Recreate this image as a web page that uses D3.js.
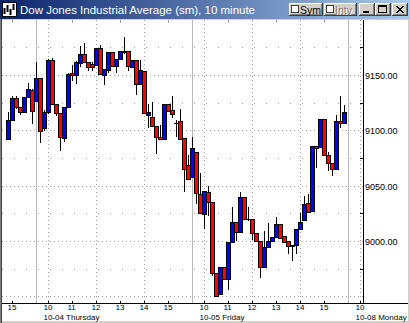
<!DOCTYPE html>
<html>
<head>
<meta charset="utf-8">
<script src="https://cdn.jsdelivr.net/npm/d3@7"></script>
<style>
  html, body { margin: 0; padding: 0; background: #d4d0c8; overflow: hidden; }
  text { font-family: "Liberation Sans", Arial, sans-serif; }
</style>
</head>
<body>
<div id="chart"></div>
<script>
// 10 minute bars, label = bar start time
var barTimes = [
  '10-03 14:50','10-03 15:00','10-03 15:10','10-03 15:20','10-03 15:30','10-03 15:40','10-03 15:50',
  '10-04 09:30','10-04 09:40','10-04 09:50','10-04 10:00','10-04 10:10','10-04 10:20','10-04 10:30','10-04 10:40','10-04 10:50',
  '10-04 11:00','10-04 11:10','10-04 11:20','10-04 11:30','10-04 11:40','10-04 11:50',
  '10-04 12:00','10-04 12:10','10-04 12:20','10-04 12:30','10-04 12:40','10-04 12:50',
  '10-04 13:00','10-04 13:10','10-04 13:20','10-04 13:30','10-04 13:40','10-04 13:50',
  '10-04 14:00','10-04 14:10','10-04 14:20','10-04 14:30','10-04 14:40','10-04 14:50',
  '10-04 15:00','10-04 15:10','10-04 15:20','10-04 15:30','10-04 15:40','10-04 15:50',
  '10-05 09:30','10-05 09:40','10-05 09:50','10-05 10:00','10-05 10:10','10-05 10:20','10-05 10:30','10-05 10:40','10-05 10:50',
  '10-05 11:00','10-05 11:10','10-05 11:20','10-05 11:30','10-05 11:40','10-05 11:50',
  '10-05 12:00','10-05 12:10','10-05 12:20','10-05 12:30','10-05 12:40','10-05 12:50',
  '10-05 13:00','10-05 13:10','10-05 13:20','10-05 13:30','10-05 13:40','10-05 13:50',
  '10-05 14:00','10-05 14:10','10-05 14:20','10-05 14:30','10-05 14:40','10-05 14:50',
  '10-05 15:00','10-05 15:10','10-05 15:20','10-05 15:30','10-05 15:40','10-05 15:50'
];

var openVals = [
  9091.9, 9109.3, 9128.9, 9120.8, 9116.3, 9129.8, 9136.4,
  9126.7, 9147.0, 9101.8, 9116.8, 9163.5, 9123.8, 9115.4, 9092.8, 9121.3,
  9151.5, 9149.9, 9160.5, 9168.6, 9161.4, 9159.6,
  9159.0, 9174.1, 9149.9, 9154.5, 9171.0, 9158.1,
  9164.1, 9171.9, 9171.6, 9157.4, 9163.5, 9141.5,
  9153.6, 9113.5, 9111.7, 9104.2, 9093.7, 9091.9,
  9123.5, 9118.1, 9106.9, 9108.4, 9092.8, 9068.7,
  9058.1, 9080.7, 9042.2, 9024.1, 9044.0, 9035.5, 8970.8, 8952.1, 8976.2,
  8965.4, 8999.4, 9016.9, 9007.9, 9040.0, 9019.8,
  9019.6, 9007.5, 9000.3, 8976.8, 8994.9, 9000.3,
  9003.9, 9015.1, 9004.8, 9000.3, 8996.1, 8996.1,
  9010.6, 9019.0, 9034.1, 9027.4, 9085.8, 9084.6,
  9110.2, 9077.7, 9070.2, 9064.8, 9108.4, 9106.3
];
var highVals = [
  9116.3, 9131.0, 9131.0, 9120.8, 9129.8, 9143.0, 9137.0,
  9162.0, 9147.0, 9118.0, 9164.4, 9165.6, 9123.8, 9115.4, 9121.3, 9151.8,
  9159.0, 9163.0, 9176.1, 9178.6, 9161.4, 9162.0,
  9174.1, 9177.0, 9155.1, 9171.0, 9171.0, 9164.1,
  9171.9, 9184.5, 9172.0, 9163.5, 9163.5, 9163.5,
  9153.6, 9123.5, 9125.3, 9104.2, 9104.8, 9123.5,
  9123.5, 9131.2, 9109.3, 9119.2, 9092.8, 9077.7,
  9093.7, 9080.7, 9061.2, 9045.2, 9050.0, 9035.5, 8970.8, 8976.2, 8976.2,
  8999.4, 9031.0, 9016.9, 9044.5, 9040.0, 9030.7,
  9019.6, 9007.5, 9000.3, 9009.0, 9016.5, 9003.9,
  9021.9, 9015.1, 9004.8, 9000.3, 8996.1, 9010.6,
  9025.0, 9040.6, 9042.2, 9085.8, 9085.8, 9110.2,
  9110.6, 9080.0, 9070.2, 9113.8, 9131.0, 9122.8
];
var lowVals = [
  9091.9, 9109.3, 9120.5, 9115.0, 9116.3, 9129.8, 9106.6,
  9126.7, 9089.7, 9100.0, 9116.0, 9123.8, 9114.0, 9082.2, 9090.3, 9121.3,
  9145.4, 9142.5, 9158.0, 9161.4, 9154.5, 9154.5,
  9159.0, 9150.6, 9141.5, 9152.7, 9158.1, 9152.7,
  9164.1, 9170.0, 9154.5, 9157.4, 9132.8, 9141.5,
  9115.4, 9103.2, 9104.2, 9079.8, 9091.9, 9091.9,
  9117.4, 9112.3, 9094.8, 9091.9, 9045.4, 9055.7,
  9058.1, 9034.1, 9025.0, 9012.0, 9023.5, 8969.3, 8950.6, 8952.1, 8965.4,
  8956.4, 8999.4, 9000.9, 9007.9, 9019.6, 9019.0,
  9001.8, 9000.3, 8967.8, 8976.8, 8994.9, 9000.3,
  9003.9, 9002.4, 8999.4, 8988.9, 8982.8, 8988.9,
  9010.6, 9019.0, 9026.5, 9027.4, 9067.1, 9084.6,
  9077.7, 9064.1, 9059.6, 9064.8, 9103.2, 9106.3
];
var closeVals = [
  9109.3, 9128.9, 9120.8, 9116.3, 9129.8, 9137.0, 9117.4,
  9147.0, 9099.6, 9116.8, 9163.5, 9123.8, 9115.4, 9094.2, 9121.3, 9150.6,
  9149.7, 9161.4, 9168.6, 9161.4, 9156.9, 9157.4,
  9174.1, 9150.6, 9155.1, 9171.0, 9158.1, 9164.1,
  9171.9, 9171.2, 9158.1, 9163.5, 9141.8, 9154.5,
  9115.4, 9116.3, 9104.2, 9093.7, 9091.9, 9123.5,
  9117.4, 9114.4, 9106.7, 9091.9, 9064.8, 9055.7,
  9083.7, 9043.1, 9025.0, 9045.2, 9035.5, 8971.4, 8950.6, 8976.2, 8965.4,
  8999.4, 9016.9, 9007.9, 9040.0, 9019.6, 9019.6,
  9007.0, 9000.3, 8976.2, 8994.9, 9000.3, 9003.9,
  9015.1, 9002.4, 8999.4, 8995.5, 8995.7, 9010.6,
  9017.4, 9033.2, 9026.5, 9085.8, 9084.3, 9110.2,
  9077.7, 9070.2, 9064.8, 9108.4, 9106.3, 9116.3
];

// sessions shown on the time axis
var sessionDates = ['10-03', '10-04', '10-05', '10-08'];
var sessionNames = ['10-03 Wednesday', '10-04 Thursday', '10-05 Friday', '10-08 Monday'];
// hour labels: [session, hour]
var hourTicks = [[0,15],[1,10],[1,11],[1,12],[1,13],[1,14],[1,15],
                 [2,10],[2,11],[2,12],[2,13],[2,14],[2,15],[3,10]];
var priceTicks = [9000, 9050, 9100, 9150];

var W = 410, H = 323;
var plot = { left: 2, right: 363, top: 20, bottom: 303 };
var BARS_PER_DAY = 39;

function slotOf(session, hh, mm) {
  return session * BARS_PER_DAY + (hh * 60 + mm - 570) / 10;
}
function barSlot(s) {
  var d = sessionDates.indexOf(s.slice(0, 5));
  return slotOf(d, +s.slice(6, 8), +s.slice(9, 11));
}

var x = d3.scaleLinear().domain([BARS_PER_DAY, 3 * BARS_PER_DAY]).range([36.5, 348.5]);
var y = d3.scaleLinear().domain([9000, 9150]).range([241, 75]);
function py(v) { return Math.round(y(v)) + 0.5; }
function hx(t) { return Math.floor(x(slotOf(t[0], t[1], 0))) + 0.5; }

var bars = barTimes.map(function(t, i) {
  return { slot: barSlot(t), o: openVals[i], h: highVals[i], l: lowVals[i], c: closeVals[i] };
});

var svg = d3.select('#chart').append('svg')
  .attr('width', W)
  .attr('height', H)
  .style('display', 'block');

// ---- window frame and caption ----
svg.append('rect').attr('width', W).attr('height', H).attr('fill', '#d4d0c8');
svg.append('rect').attr('x', 2).attr('y', 20).attr('width', 406).attr('height', 301).attr('fill', '#fff');

var grad = svg.append('defs').append('linearGradient').attr('id', 'cap')
  .attr('x1', 0).attr('x2', 1).attr('y1', 0).attr('y2', 0);
grad.append('stop').attr('offset', 0).attr('stop-color', '#0a246a');
grad.append('stop').attr('offset', 1).attr('stop-color', '#a6caf0');
svg.append('rect').attr('x', 0).attr('y', 0).attr('width', W).attr('height', 19).attr('fill', 'url(#cap)');

// little chart icon
var icon = svg.append('g').attr('transform', 'translate(2,2)');
icon.append('rect').attr('width', 15).attr('height', 15).attr('fill', '#000');
icon.append('rect').attr('x', 1).attr('y', 1).attr('width', 13).attr('height', 13).attr('fill', '#fff');
[[2, 6, 12], [5, 3, 10], [8, 7, 13], [11, 2, 8]].forEach(function(b) {
  icon.append('line').attr('x1', b[0] + 0.5).attr('x2', b[0] + 0.5).attr('y1', b[1]).attr('y2', b[2])
    .attr('stroke', '#000').attr('stroke-width', 2);
});

svg.append('text').attr('x', 20).attr('y', 14)
  .attr('fill', '#fff').style('font-size', '11.5px')
  .text('Dow Jones Industrial Average (sm), 10 minute');

function button(x0, w) {
  var g = svg.append('g').attr('transform', 'translate(' + x0 + ',3)');
  g.append('rect').attr('width', w).attr('height', 13).attr('fill', '#404040');
  g.append('rect').attr('width', w - 1).attr('height', 12).attr('fill', '#fff');
  g.append('rect').attr('x', 1).attr('y', 1).attr('width', w - 2).attr('height', 11).attr('fill', '#808080');
  g.append('rect').attr('x', 1).attr('y', 1).attr('width', w - 3).attr('height', 10).attr('fill', '#d4d0c8');
  return g;
}
var sym = button(289, 34);
sym.append('rect').attr('x', 2.5).attr('y', 2.5).attr('width', 7).attr('height', 7)
  .attr('fill', '#fff').attr('stroke', '#404040');
sym.append('text').attr('x', 11).attr('y', 10.5).style('font-size', '10.5px').attr('fill', '#000').text('Sym');
var intv = button(324, 33);
intv.append('rect').attr('x', 2.5).attr('y', 2.5).attr('width', 7).attr('height', 7)
  .attr('fill', '#fff').attr('stroke', '#404040');
intv.append('text').attr('x', 12).attr('y', 11.5).style('font-size', '10.5px').attr('fill', '#fff').text('Intv');
intv.append('text').attr('x', 11).attr('y', 10.5).style('font-size', '10.5px').attr('fill', '#808080').text('Intv');

var minB = button(359, 16);
minB.append('rect').attr('x', 4).attr('y', 8).attr('width', 6).attr('height', 2).attr('fill', '#000');
var maxB = button(375, 16);
maxB.append('rect').attr('x', 3.5).attr('y', 2.5).attr('width', 8).attr('height', 7)
  .attr('fill', 'none').attr('stroke', '#000');
maxB.append('line').attr('x1', 3.5).attr('x2', 11.5).attr('y1', 3.5).attr('y2', 3.5).attr('stroke', '#000');
var clsB = button(392, 16);
clsB.append('path').attr('d', 'M4,3L11,10M5,3L12,10M11,3L4,10M12,3L5,10')
  .attr('stroke', '#000').attr('stroke-width', 1);

// ---- grid ----
var grid = svg.append('g');
d3.range(8950, 9200, 25).forEach(function(v) {
  var major = v % 50 === 0;
  grid.append('line')
    .attr('x1', plot.left).attr('x2', plot.right)
    .attr('y1', py(v)).attr('y2', py(v))
    .attr('stroke', '#a0a0a0')
    .attr('stroke-dasharray', major ? '1,3' : '1,11');
});
hourTicks.forEach(function(t) {
  var xx = hx(t);
  if (t[1] % 2 === 0) {
    grid.append('line')
      .attr('x1', xx).attr('x2', xx)
      .attr('y1', plot.top).attr('y2', plot.bottom)
      .attr('stroke', '#a0a0a0')
      .attr('stroke-dasharray', '1,3');
  } else {
    grid.append('line').attr('x1', xx).attr('x2', xx)
      .attr('y1', plot.top).attr('y2', plot.top + 3).attr('stroke', '#a0a0a0');
  }
});
// session separators
[1, 2, 3].forEach(function(d) {
  var xx = Math.floor(x(slotOf(d, 9, 30))) + 0.5;
  grid.append('line')
    .attr('x1', xx).attr('x2', xx)
    .attr('y1', plot.top).attr('y2', plot.bottom)
    .attr('stroke', '#b8b8b8');
});

// ---- candles ----
var candles = svg.append('g');
candles.selectAll('line.wick').data(bars).enter().append('line')
  .attr('class', 'wick')
  .attr('x1', function(d) { return x(d.slot); })
  .attr('x2', function(d) { return x(d.slot); })
  .attr('y1', function(d) { return py(d.h) - 0.5; })
  .attr('y2', function(d) { return py(d.l) + 0.5; })
  .attr('stroke', '#000');

candles.selectAll('g.body').data(bars).enter().append('g')
  .attr('class', 'body')
  .each(function(d) {
    var g = d3.select(this);
    var top = py(Math.max(d.o, d.c)), bot = py(Math.min(d.o, d.c));
    if (bot - top < 1) {
      g.append('line').attr('x1', x(d.slot) - 2.5).attr('x2', x(d.slot) + 2.5)
        .attr('y1', top).attr('y2', top).attr('stroke', '#000');
    } else {
      g.append('rect')
        .attr('x', x(d.slot) - 2).attr('y', top)
        .attr('width', 4).attr('height', bot - top)
        .attr('fill', d.c >= d.o ? '#0000ff' : '#ff0000')
        .attr('stroke', '#000');
    }
  });

// ---- axes ----
svg.append('line').attr('x1', plot.right + 0.5).attr('x2', plot.right + 0.5)
  .attr('y1', plot.top).attr('y2', plot.bottom).attr('stroke', '#000');
svg.append('line').attr('x1', plot.left).attr('x2', 408)
  .attr('y1', plot.bottom + 0.5).attr('y2', plot.bottom + 0.5).attr('stroke', '#000');

d3.range(8950, 9200, 25).forEach(function(v) {
  if (v % 50 !== 0) {
    svg.append('line').attr('x1', plot.right - 3).attr('x2', plot.right)
      .attr('y1', py(v)).attr('y2', py(v)).attr('stroke', '#000');
  }
});
hourTicks.forEach(function(t) {
  svg.append('line').attr('x1', hx(t)).attr('x2', hx(t))
    .attr('y1', plot.bottom - 2).attr('y2', plot.bottom).attr('stroke', '#000');
});

svg.selectAll('text.price').data(priceTicks).enter().append('text')
  .attr('class', 'price')
  .attr('x', plot.right + 2)
  .attr('y', function(v) { return py(v) + 3; })
  .style('font-size', '9px')
  .attr('fill', '#000')
  .text(function(v) { return d3.format('.2f')(v); });

svg.selectAll('text.hour').data(hourTicks).enter().append('text')
  .attr('class', 'hour')
  .attr('x', function(t) { return x(slotOf(t[0], t[1], 0)) - 5; })
  .attr('y', 310)
  .style('font-size', '8px')
  .attr('fill', '#000')
  .text(function(t) { return t[1]; });

svg.selectAll('text.day').data([1, 2, 3]).enter().append('text')
  .attr('class', 'day')
  .attr('x', function(d) { return x(slotOf(d, 10, 0)) - 5; })
  .attr('y', 319.5)
  .style('font-size', '8px')
  .attr('fill', '#000')
  .text(function(d) { return sessionNames[d]; });

// frame edges
svg.append('line').attr('x1', 0.5).attr('x2', 0.5).attr('y1', 19).attr('y2', H).attr('stroke', '#808080');
svg.append('line').attr('x1', 1.5).attr('x2', 1.5).attr('y1', 19).attr('y2', H).attr('stroke', '#404040');
</script>
</body>
</html>
